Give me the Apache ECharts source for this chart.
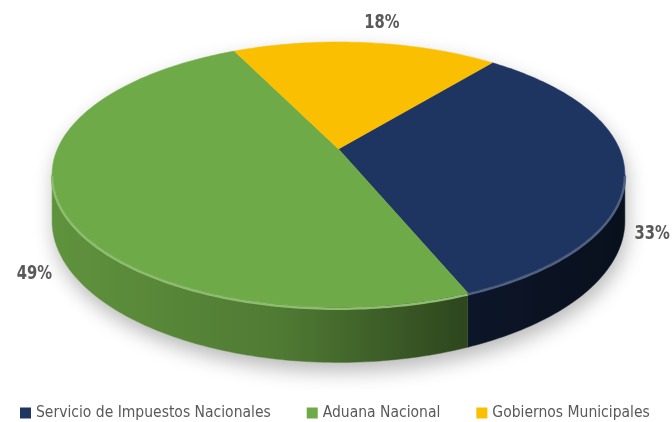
<!DOCTYPE html>
<html>
<head>
<meta charset="utf-8">
<script src="https://cdn.jsdelivr.net/npm/echarts@6/dist/echarts.min.js"></script>
<style>
  html, body { margin: 0; background: #fff; }
  #chart { width: 672px; height: 422px; }
</style>
</head>
<body>
<div id="chart"></div>
<script>
// datos del gráfico
const categorias = ['Servicio de Impuestos Nacionales', 'Aduana Nacional', 'Gobiernos Municipales'];
const porcentajes = [33, 49, 18];
const colores = ['#1E3461', '#6EAA47', '#F9BF00'];

const fuente = '"Liberation Sans Narrow", "DejaVu Sans Condensed", Roboto, sans-serif';
const anguloInicio = 51; // primer sector, sentido horario
const persp = 0.1925;    // perspectiva: el fondo se ve más pequeño

const total = porcentajes.reduce((a, b) => a + b, 0);
const rangos = [];
let acum = 0;
porcentajes.forEach(v => {
  const span = v / total * 360;
  rangos.push([anguloInicio - acum - span, anguloInicio - acum]);
  acum += span;
});

const rad = d => d * Math.PI / 180;

function escala(hex, f) {
  const n = parseInt(hex.slice(1), 16);
  const c = [(n >> 16) & 255, (n >> 8) & 255, n & 255].map(x => Math.round(x * f));
  return `rgb(${c.join(',')})`;
}
function aclarar(hex, f) {
  const n = parseInt(hex.slice(1), 16);
  const c = [(n >> 16) & 255, (n >> 8) & 255, n & 255].map(x => Math.round(x + (255 - x) * f));
  return `rgb(${c.join(',')})`;
}

function renderItem(params, api) {
  const i = params.dataIndex;
  const W = api.getWidth(), H = api.getHeight();
  const cx = W * 0.5037, cy = H * 0.3531, R = W * 0.4182, R2 = H * 0.3024, D = H * 0.106;

  const punto = (t, h) => {
    const a = rad(t), w = 1 + persp * Math.sin(a);
    return [cx + R * Math.cos(a) / w, cy - R2 * Math.sin(a) / w + h * D / w];
  };
  const arco = (t0, t1, h) => {
    const pts = [];
    const n = Math.max(2, Math.ceil(Math.abs(t1 - t0)));
    for (let k = 0; k <= n; k++) pts.push(punto(t0 + (t1 - t0) * k / n, h));
    return pts;
  };

  const te = Math.asin(persp) * 180 / Math.PI;
  const [s, e] = rangos[i];
  const base = colores[i];
  const children = [];

  // sombra bajo el disco
  if (i === 0) {
    children.push({
      type: 'polygon', z2: 0,
      shape: { points: [...arco(-te, 180 + te, 0), ...arco(180 + te, 360 - te, 1)] },
      style: { fill: '#fff', shadowBlur: 20, shadowOffsetY: 9, shadowOffsetX: 2, shadowColor: 'rgba(0,0,0,0.28)' }
    });
  }

  // pared lateral visible (mitad frontal)
  const grad = {
    type: 'linear', global: true, x: cx - R, y: 0, x2: cx + R, y2: 0,
    colorStops: [
      { offset: 0, color: escala(base, 0.86) },
      { offset: 0.4, color: escala(base, 0.72) },
      { offset: 0.72, color: escala(base, 0.42) },
      { offset: 1, color: escala(base, 0.3) }
    ]
  };
  for (let k = -2; k <= 1; k++) {
    const a = Math.max(s, -180 + te + 360 * k), b = Math.min(e, -te + 360 * k);
    if (b > a) {
      children.push({
        type: 'polygon', z2: 2,
        shape: { points: [...arco(a, b, 0), ...arco(b, a, 1)] },
        style: { fill: grad, stroke: grad, lineWidth: 0.5 }
      });
      children.push({
        type: 'polyline', z2: 12,
        shape: { points: arco(a, b, 0.03) },
        style: { fill: null, stroke: aclarar(base, 0.22), lineWidth: 2.5 }
      });
    }
  }

  // cara superior
  children.push({
    type: 'polygon', z2: 10,
    shape: { points: [[cx, cy], ...arco(s, e, 0)] },
    style: { fill: base, stroke: base, lineWidth: 0.5 }
  });

  // etiqueta de porcentaje
  const m = (s + e) / 2;
  const sn = Math.sin(rad(m)), cs = Math.cos(rad(m));
  const p = punto(m, sn < 0 ? 1 : 0);
  children.push({
    type: 'text', z2: 20,
    x: p[0] + cs * 28 + (sn > 0 ? 13 : 0),
    y: p[1] + (sn < 0 ? 20 : -20),
    scaleX: 0.82,
    style: {
      text: Math.round(api.value(0) / total * 100) + '%',
      fill: '#595959', font: `bold 20px ${fuente}`,
      align: 'center', verticalAlign: 'middle'
    }
  });

  return { type: 'group', children };
}

const chart = echarts.init(document.getElementById('chart'));
chart.setOption({
  animation: false,
  backgroundColor: '#fff',
  legend: {
    bottom: 1,
    left: 20,
    padding: 0,
    icon: 'rect',
    itemWidth: 11,
    itemHeight: 11,
    itemGap: 36,
    selectedMode: false,
    textStyle: { color: '#595959', fontSize: 15.5, fontFamily: fuente },
    data: categorias
  },
  series: [
    {
      type: 'custom',
      coordinateSystem: 'none',
      renderItem,
      silent: true,
      data: porcentajes
    },
    {
      // serie oculta, solo para la leyenda
      type: 'pie',
      radius: [0, 0],
      silent: true,
      label: { show: false },
      labelLine: { show: false },
      data: categorias.map((c, i) => ({ name: c, value: porcentajes[i], itemStyle: { color: colores[i] } }))
    }
  ]
});

window.addEventListener('resize', () => chart.resize());
</script>
</body>
</html>
